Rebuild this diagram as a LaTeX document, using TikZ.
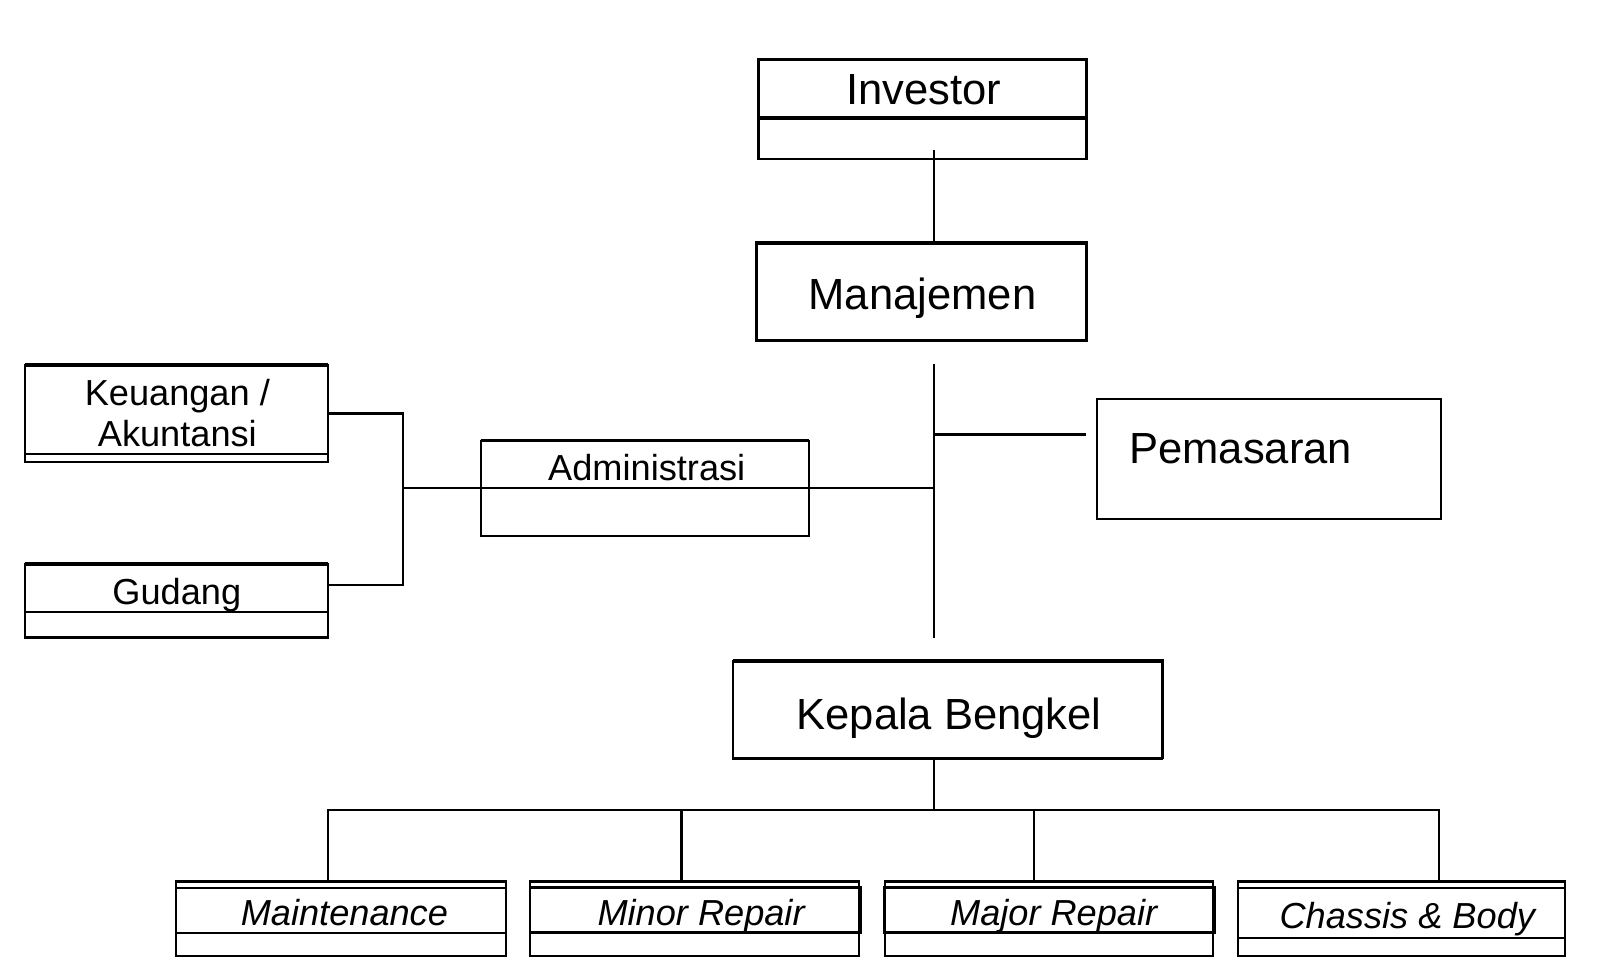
\documentclass[tikz,border=0pt]{standalone}
\usepackage{fontspec}
\setmainfont{Liberation Sans}
\usetikzlibrary{fit}
\begin{document}
\begin{tikzpicture}[x=0.01025cm,y=-0.01025cm,
 frame/.style={draw, line width=0.6pt, inner sep=0pt},
 lnthin/.style={line width=0.6pt},
 lnthick/.style={line width=0.95pt},
 lnmid/.style={line width=0.8pt},
 lnheavy/.style={line width=1.2pt},
 conn/.style={line width=0.65pt},
 bigtxt/.style={font=\fontsize{12.4pt}{14pt}\selectfont, inner sep=0pt, anchor=base},
 smalltxt/.style={font=\fontsize{10.3pt}{12pt}\selectfont, inner sep=0pt, anchor=base},
 ittxt/.style={font=\fontsize{10.3pt}{12pt}\selectfont\itshape, inner sep=0pt, anchor=base}]
\useasboundingbox[fill=white] (0,0) rectangle (1561,955);

% Investor
\node[frame, fit={(740,58)(1060,155)}] (inv) {};
\draw[lnthick] (740,115) rectangle (1060,58);
\node[bigtxt] (invT) at (901,102) {Investor};

% Manajemen
\node[frame, lnthick, fit={(738,237)(1060,332)}] (man) {};
\node[bigtxt] (manT) at (900,302) {Manajemen};

% Pemasaran
\node[frame, fit={(1070,389)(1406,506)}] (pem) {};
\node[bigtxt, anchor=base west] (pemT) at (1101,452) {Pemasaran};

% Administrasi
\node[frame, fit={(469,430)(789,523)}] (adm) {};
\draw[lnthick] (469,430) -- (789,430);
\node[smalltxt] (admT) at (631,469) {Administrasi};

% Keuangan / Akuntansi
\node[frame, fit={(24,356)(320,451)}] (keu) {};
\draw[lnheavy] (24,356) -- (320,356);
\draw[lnthin] (24,443) -- (320,443);
\node[smalltxt] (keuT1) at (173,396) {Keuangan /};
\node[smalltxt] (keuT2) at (173,436) {Akuntansi};

% Gudang
\node[frame, fit={(24,550)(320,622)}] (gud) {};
\draw[lnheavy] (24,550) -- (320,550);
\draw[lnthin] (24,597) -- (320,597);
\node[smalltxt] (gudT) at (172.5,590) {Gudang};

% Kepala Bengkel
\node[frame, fit={(715,645)(1134,740)}] (kep) {};
\draw[lnthick] (715,645) -- (1134,645) -- (1134,740);
\node[bigtxt] (kepT) at (926,712) {Kepala Bengkel};

% Bottom boxes
\node[frame, fit={(172,860)(494,933)}] (mnt) {};
\draw[lnthin] (172,866) -- (494,866) (172,910) -- (494,910);
\node[ittxt] (mntT) at (336,903) {Maintenance};

\node[frame, fit={(517,860)(838,933)}] (mnr) {};
\draw[lnmid] (517,866) rectangle (840,910);
\node[ittxt] (mnrT) at (684,903) {Minor Repair};

\node[frame, fit={(863,860)(1183,933)}] (mjr) {};
\draw[lnmid] (863,866) rectangle (1185,910);
\node[ittxt] (mjrT) at (1028,903) {Major Repair};

\node[frame, fit={(1208,860)(1527,933)}] (chs) {};
\draw[lnthin] (1208,866) -- (1527,866) (1208,915) -- (1527,915);
\node[ittxt] (chsT) at (1373,906) {Chassis \& Body};

% Connectors
\coordinate (invC) at (911,146);
\draw[conn] (invC) -- (invC |- man.north);
\coordinate (vTop) at (911,355);
\coordinate (vBot) at (911,622);
\draw[conn] (vTop) -- (vBot);
\coordinate (pemJ) at (911,424);
\coordinate (pemE) at (1060,424);
\draw[conn] (pemJ) -- (pemE);
\coordinate (brk) at (393,476);
\draw[conn] (brk) -- (brk -| vTop);
\coordinate (gudC) at (320,571);
\draw[conn] (keu.east) -| (brk) |- (gudC);

\coordinate (bus) at (911,790);
\draw[conn] (kep.south -| bus) -- (bus);
\coordinate (d1) at (320,860);
\coordinate (d2) at (665,860);
\coordinate (d3) at (1009,860);
\coordinate (d4) at (1404,860);
\draw[conn] (d1) |- (bus) -| (d4);
\draw[conn] (d2) -- (d2 |- bus);
\draw[conn] (d3) -- (d3 |- bus);
\end{tikzpicture}
\end{document}
